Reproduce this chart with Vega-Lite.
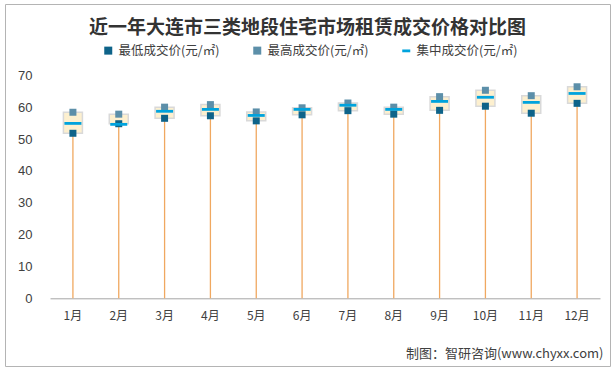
{
  "$schema": "https://vega.github.io/schema/vega-lite/v6.json",
  "autosize": {"type": "none"},
  "padding": {"left": 5, "top": 4, "right": 6, "bottom": 4},
  "width": 605,
  "height": 362,
  "background": "white",
  "config": {
    "view": {"stroke": "#B4B4B4", "strokeWidth": 1},
    "font": "Noto Sans CJK SC"
  },
  "title": {
    "text": "近一年大连市三类地段住宅市场租赁成交价格对比图",
    "anchor": "middle",
    "frame": "group",
    "orient": "top",
    "offset": -34,
    "font": "Noto Sans CJK SC",
    "fontSize": 19,
    "fontWeight": "bold",
    "color": "#333333"
  },
  "data": {
    "values": [
      {"month": "1月", "low": 51.8, "high": 58.4, "mid": 54.9},
      {"month": "2月", "low": 54.8, "high": 57.8, "mid": 54.6},
      {"month": "3月", "low": 56.5, "high": 60.0, "mid": 58.7},
      {"month": "4月", "low": 57.3, "high": 60.8, "mid": 59.3},
      {"month": "5月", "low": 55.7, "high": 58.5, "mid": 57.4},
      {"month": "6月", "low": 57.6, "high": 59.8, "mid": 59.3},
      {"month": "7月", "low": 58.9, "high": 61.3, "mid": 60.6},
      {"month": "8月", "low": 57.8, "high": 60.0, "mid": 59.3},
      {"month": "9月", "low": 59.0, "high": 63.3, "mid": 61.8},
      {"month": "10月", "low": 60.3, "high": 65.3, "mid": 63.1},
      {"month": "11月", "low": 58.1, "high": 63.6, "mid": 61.5},
      {"month": "12月", "low": 61.2, "high": 66.4, "mid": 64.3}
    ]
  },
  "encoding": {
    "x": {
      "field": "month",
      "type": "ordinal",
      "sort": null,
      "scale": {"type": "band", "range": [45, 595], "paddingInner": 0, "paddingOuter": 0},
      "axis": {
        "orient": "bottom",
        "offset": -67.7,
        "domainColor": "#A6A6A6",
        "domainWidth": 1,
        "ticks": false,
        "grid": false,
        "labelAngle": 0,
        "labelPadding": 12,
        "labelFont": "Noto Sans CJK SC",
        "labelFontSize": 12,
        "labelColor": "#404040",
        "title": "制图：智研咨询(www.chyxx.com)",
        "titleFont": "Noto Sans CJK SC",
        "titleFontSize": 13,
        "titleFontWeight": "normal",
        "titleColor": "#404040",
        "titleAlign": "right",
        "titleBaseline": "middle",
        "titleX": 598,
        "titleY": 55
      }
    }
  },
  "layer": [
    {
      "mark": {"type": "rule", "color": "#F0A860", "strokeWidth": 1.3},
      "encoding": {
        "y": {
          "field": "low",
          "type": "quantitative",
          "scale": {"domain": [0, 70], "range": [294.3, 71.3], "nice": false},
          "axis": {
            "orient": "left",
            "offset": -30,
            "values": [0, 10, 20, 30, 40, 50, 60, 70],
            "domain": false,
            "ticks": false,
            "grid": false,
            "labelPadding": 3,
            "labelFont": "Liberation Sans",
            "labelFontSize": 13,
            "labelColor": "#404040",
            "title": null
          }
        },
        "y2": {"datum": 0}
      }
    },
    {
      "mark": {"type": "bar", "width": 19, "fill": "#FDF0CF", "stroke": "#D9D9D9", "strokeWidth": 1.5},
      "encoding": {
        "y": {"field": "low", "type": "quantitative"},
        "y2": {"field": "high"}
      }
    },
    {
      "transform": [{"fold": ["low", "high", "mid"], "as": ["series", "value"]}],
      "mark": {"type": "point", "size": 49, "filled": true, "strokeWidth": 0},
      "encoding": {
        "y": {"field": "value", "type": "quantitative"},
        "opacity": {"condition": {"test": "datum.series == 'mid'", "value": 0}, "value": 1},
        "color": {
          "field": "series",
          "type": "nominal",
          "scale": {"domain": ["low", "high", "mid"], "range": ["#0E6389", "#5C8FA9", "#00A3DD"]},
          "legend": {
            "title": null,
            "orient": "none",
            "direction": "horizontal",
            "legendX": 97,
            "legendY": 40,
            "columnPadding": 30,
            "symbolSize": 64,
            "symbolOpacity": 1,
            "labelFont": "Noto Sans CJK SC",
            "labelFontSize": 12.5,
            "labelColor": "#404040",
            "labelOffset": 4,
            "labelExpr": "datum.label == 'low' ? '最低成交价(元/㎡)' : datum.label == 'high' ? '最高成交价(元/㎡)' : '集中成交价(元/㎡)'"
          }
        },
        "shape": {
          "field": "series",
          "type": "nominal",
          "scale": {"domain": ["low", "high", "mid"], "range": ["square", "square", "M-1,-0.35L1,-0.35L1,0.35L-1,0.35Z"]},
          "legend": {
            "title": null,
            "orient": "none",
            "direction": "horizontal",
            "legendX": 97,
            "legendY": 40,
            "columnPadding": 30,
            "symbolSize": 64,
            "symbolOpacity": 1,
            "labelFont": "Noto Sans CJK SC",
            "labelFontSize": 12.5,
            "labelColor": "#404040",
            "labelOffset": 4,
            "labelExpr": "datum.label == 'low' ? '最低成交价(元/㎡)' : datum.label == 'high' ? '最高成交价(元/㎡)' : '集中成交价(元/㎡)'"
          }
        }
      }
    },
    {
      "mark": {"type": "tick", "orient": "horizontal", "size": 17, "thickness": 2.8, "opacity": 1, "color": "#00A3DD"},
      "encoding": {
        "y": {"field": "mid", "type": "quantitative"}
      }
    }
  ]
}
